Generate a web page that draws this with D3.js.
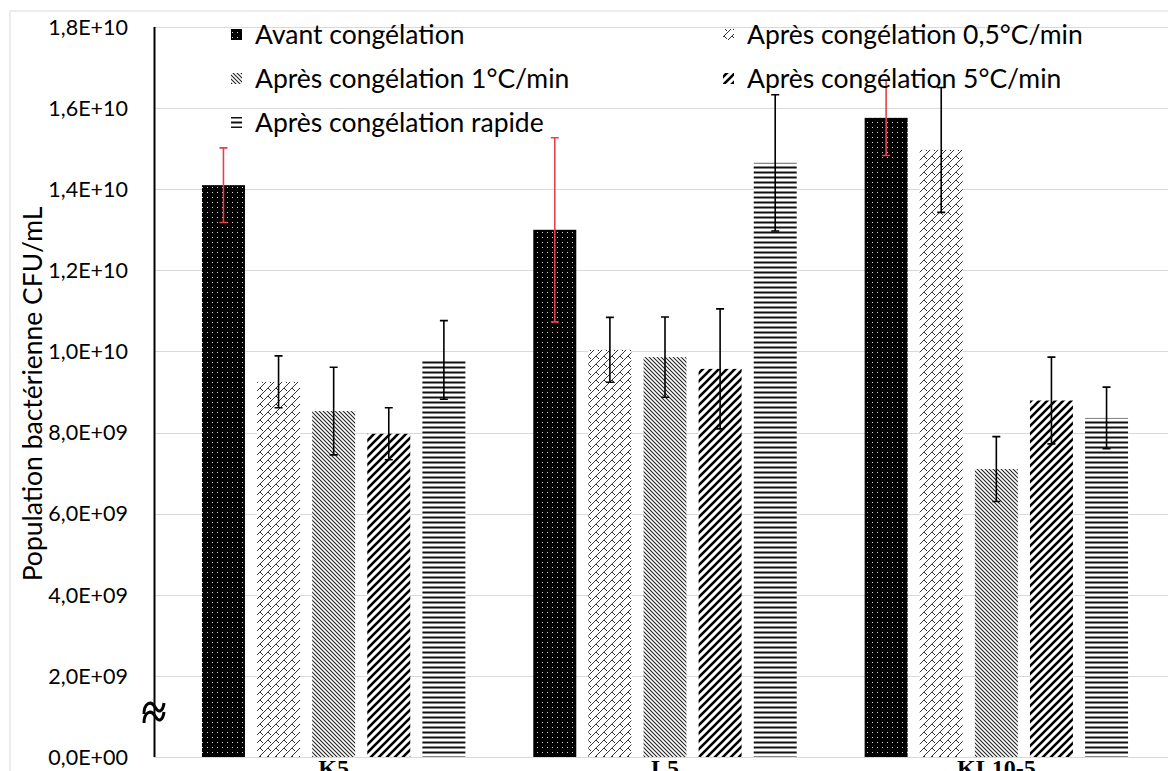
<!DOCTYPE html>
<html><head><meta charset="utf-8">
<script src="https://cdn.jsdelivr.net/npm/d3@7"></script>
<style>html,body{margin:0;padding:0;background:#fff;overflow:hidden}</style>
</head><body>
<svg id="c" width="1168" height="771"></svg>
<script>
const categories = ["K5", "L5", "KL10-5"];
const series = ["Avant congélation", "Après congélation 0,5°C/min", "Après congélation 1°C/min", "Après congélation 5°C/min", "Après congélation rapide"];
const avant   = [1.41e10, 1.30e10, 1.576e10];
const c05     = [9.25e9, 1.004e10, 1.497e10];
const c1      = [8.53e9, 9.86e9, 7.10e9];
const c5      = [7.97e9, 9.57e9, 8.79e9];
const rapide  = [9.79e9, 1.465e10, 8.36e9];
const errAvant  = [0.92e9, 2.27e9, 0.93e9];
const errC05    = [0.64e9, 0.80e9, 1.54e9];
const errC1     = [1.08e9, 0.99e9, 0.80e9];
const errC5     = [0.64e9, 1.48e9, 1.07e9];
const errRapide = [0.97e9, 1.68e9, 0.76e9];
const yTicks = [0, 2e9, 4e9, 6e9, 8e9, 1e10, 1.2e10, 1.4e10, 1.6e10, 1.8e10];
const yTickLabels = ["0,0E+00","2,0E+09","4,0E+09","6,0E+09","8,0E+09","1,0E+10","1,2E+10","1,4E+10","1,6E+10","1,8E+10"];
const yTitle = "Population bactérienne CFU/mL";

const values = [avant, c05, c1, c5, rapide];
const errors = [errAvant, errC05, errC1, errC5, errRapide];

const svg = d3.select("#c");
const defs = svg.append("defs");

function pat(id, w, h){ return defs.append("pattern").attr("id", id).attr("patternUnits","userSpaceOnUse").attr("width", w).attr("height", h); }
let p = pat("p0", 5, 5);
p.append("rect").attr("width",5).attr("height",5).attr("fill","#000");
p.append("rect").attr("x",2).attr("y",2).attr("width",1).attr("height",1).attr("fill","#d8d8d8");
p = pat("p1", 8, 8);
p.append("rect").attr("width",8).attr("height",8).attr("fill","#fff");
p.append("path").attr("d","M0,8 L8,0 M-2,2 L2,-2 M4,4 L7,7 M6,10 L10,6").attr("stroke","#333").attr("stroke-width",1).attr("fill","none");
p = pat("p2", 4, 4);
p.append("rect").attr("width",4).attr("height",4).attr("fill","#fff");
p.append("path").attr("d","M-1,-1 L5,5 M-1,3 L1,5 M3,-1 L5,1").attr("stroke","#222").attr("stroke-width",1.1).attr("fill","none");
p = pat("p3", 8, 8);
p.append("rect").attr("width",8).attr("height",8).attr("fill","#fff");
p.append("path").attr("d","M-1,9 L9,-1 M-1,1 L1,-1 M7,9 L9,7").attr("stroke","#000").attr("stroke-width",2.6).attr("fill","none");
p = pat("p4", 5, 5);
p.append("rect").attr("width",5).attr("height",5).attr("fill","#fff");
p.append("rect").attr("y",1.5).attr("width",5).attr("height",2).attr("fill","#111");

svg.append("path").attr("d","M10,771 L10,11 L1168,11").attr("fill","none").attr("stroke","#d9d9d9").attr("stroke-width",1);

const y = d3.scaleLinear().domain([0, 1.8e10]).range([757, 27]);
const x0 = d3.scaleBand().domain(categories).range([168, 1162]).paddingInner(0.205).paddingOuter(0.1025);
const x1 = d3.scaleBand().domain(series).range([0, x0.bandwidth()]).paddingInner(0.22).paddingOuter(0);

svg.append("g").selectAll("line").data(yTicks).join("line")
  .attr("x1",154).attr("x2",1168).attr("y1",d=>Math.round(y(d))+0.5).attr("y2",d=>Math.round(y(d))+0.5)
  .attr("stroke","#d9d9d9").attr("stroke-width",1.2);

svg.append("g").selectAll("text").data(yTicks).join("text")
  .attr("x",128).attr("y",d=>y(d)).attr("dy","0.36em").attr("text-anchor","end")
  .attr("font-family","Lato, 'Open Sans', sans-serif").attr("font-size",21.5).attr("fill","#000")
  .text((d,i)=>yTickLabels[i]);

svg.append("text").attr("transform","translate(42,394) rotate(-90)").attr("text-anchor","middle")
  .attr("font-family","Lato, 'Open Sans', sans-serif").attr("font-size",26.5).attr("fill","#000").text(yTitle);

const g = svg.append("g");
categories.forEach((cat, ci) => {
  series.forEach((s, si) => {
    const v = values[si][ci];
    g.append("rect").attr("x", x0(cat)+x1(s)).attr("width", x1.bandwidth())
      .attr("y", y(v)).attr("height", y(0)-y(v)).attr("fill", `url(#p${si})`);
  });
});
categories.forEach((cat, ci) => {
  series.forEach((s, si) => {
    const v = values[si][ci], e = errors[si][ci];
    const cx = x0(cat)+x1(s)+x1.bandwidth()/2;
    const col = si===0 ? "#e8404a" : "#000";
    g.append("path").attr("d",`M${cx},${y(v+e)} L${cx},${y(v-e)} M${cx-4},${y(v+e)} L${cx+4},${y(v+e)} M${cx-4},${y(v-e)} L${cx+4},${y(v-e)}`)
      .attr("stroke",col).attr("stroke-width",1.6).attr("fill","none");
  });
});

svg.append("line").attr("x1",154.5).attr("x2",154.5).attr("y1",27).attr("y2",757).attr("stroke","#000").attr("stroke-width",2);
// axis break symbol (two slanted waves)
svg.append("path").attr("d","M144,714 C144,703 151,700 155,707 C159,714 163,711 164,703")
  .attr("fill","none").attr("stroke","#000").attr("stroke-width",3);
svg.append("path").attr("d","M144,723 C144,712 151,709 155,716 C159,723 163,720 164,712")
  .attr("fill","none").attr("stroke","#000").attr("stroke-width",3);

svg.append("g").selectAll("text").data(categories).join("text")
  .attr("x", d=>x0(d)+x0.bandwidth()/2).attr("y", 776).attr("text-anchor","middle")
  .attr("font-family","'Liberation Serif', serif").attr("font-weight","bold").attr("font-size",24).attr("fill","#000")
  .text(d=>d);

const legPos = [[231,35],[723,35],[231,79],[723,79],[231,123]];
const leg = svg.append("g");
series.forEach((s, si) => {
  const [lx, ly] = legPos[si];
  leg.append("rect").attr("x",lx).attr("y",ly-6).attr("width",11).attr("height",11).attr("fill",`url(#p${si})`);
  leg.append("text").attr("x",lx+24).attr("y",ly).attr("dy","0.35em")
    .attr("font-family","Lato, 'Open Sans', sans-serif").attr("font-size",26.5).attr("fill","#000").text(s);
});
</script>
</body></html>
